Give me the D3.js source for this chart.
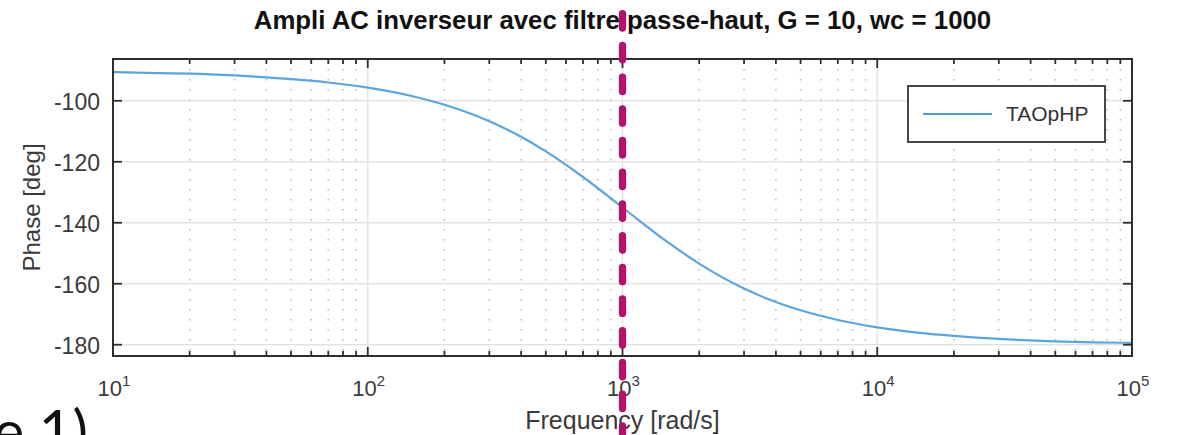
<!DOCTYPE html>
<html>
<head>
<meta charset="utf-8">
<title>Ampli AC inverseur - phase</title>
<style>
  body { margin: 0; background: #fff; }
  svg { display: block; }
  text { font-family: "Liberation Sans", Arial, sans-serif; }
</style>
</head>
<body>
<div id="plot"></div>
<script src="https://cdn.jsdelivr.net/npm/d3@7"></script>
<script>
// values
let freq  = [10, 15, 20, 30, 40, 50, 70, 100, 150, 200, 300, 400, 500, 700,
             1000, 1500, 2000, 3000, 4000, 5000, 7000, 10000, 15000, 20000,
             30000, 50000, 70000, 100000];
let phase = [-90.6, -90.9, -91.1, -91.7, -92.3, -92.9, -94.0, -95.7, -98.5,
             -101.3, -106.7, -111.8, -116.6, -125.0, -135.0, -146.3, -153.4,
             -161.6, -166.0, -168.7, -171.9, -174.3, -176.2, -177.1, -178.1,
             -178.9, -179.2, -179.4];
let yTicks = [-100, -120, -140, -160, -180];
let xDecades = [1, 2, 3, 4, 5];
let cutoff = 1000;
let seriesName = 'TAOpHP';
let title = 'Ampli AC inverseur avec filtre passe-haut, G = 10, wc = 1000';

let W = 1177, H = 435;
let margin = {top: 59, right: 45, bottom: 79, left: 113};
let x0 = margin.left, x1 = W - margin.right;
let y0 = margin.top, y1 = H - margin.bottom;

let svg = d3.select('#plot').append('svg')
  .attr('width', W).attr('height', H);

let x = d3.scaleLog().domain([10, 1e5]).range([x0, x1]);
let y = d3.scaleLinear().domain([-183.7, -86.3]).range([y1, y0]);

let minors = [];
xDecades.slice(0, -1).forEach(function(e) {
  for (let k = 2; k <= 9; k++) minors.push(k * Math.pow(10, e));
});
let majors = xDecades.map(e => Math.pow(10, e));

// grid
svg.append('g').selectAll('line').data(minors).enter().append('line')
  .attr('x1', d => x(d)).attr('x2', d => x(d))
  .attr('y1', y0).attr('y2', y1)
  .style('stroke', '#b8b8b8').style('stroke-width', 1.5)
  .style('stroke-dasharray', '1.5,8.5');

svg.append('g').selectAll('line').data(majors.slice(1, -1)).enter().append('line')
  .attr('x1', d => x(d)).attr('x2', d => x(d))
  .attr('y1', y0).attr('y2', y1)
  .style('stroke', '#e4e4e4').style('stroke-width', 1.5);

svg.append('g').selectAll('line').data(yTicks).enter().append('line')
  .attr('x1', x0).attr('x2', x1)
  .attr('y1', d => y(d)).attr('y2', d => y(d))
  .style('stroke', '#e4e4e4').style('stroke-width', 1.5);

// curve
let line = d3.line()
  .x((d, i) => x(freq[i]))
  .y(d => y(d))
  .curve(d3.curveMonotoneX);

svg.append('path').datum(phase)
  .attr('d', line)
  .style('fill', 'none')
  .style('stroke', '#5aa5dc')
  .style('stroke-width', 2.2);

// box + ticks
svg.append('rect')
  .attr('x', x0).attr('y', y0)
  .attr('width', x1 - x0).attr('height', y1 - y0)
  .style('fill', 'none').style('stroke', '#2e2e2e').style('stroke-width', 2);

let tickStyle = g => g.style('stroke', '#2e2e2e').style('stroke-width', 1.8);

[[y1, -1], [y0, 1]].forEach(function(p) {
  svg.append('g').selectAll('line').data(majors).enter().append('line')
    .attr('x1', d => x(d)).attr('x2', d => x(d))
    .attr('y1', p[0]).attr('y2', p[0] + p[1] * 9)
    .call(tickStyle);
  svg.append('g').selectAll('line').data(minors).enter().append('line')
    .attr('x1', d => x(d)).attr('x2', d => x(d))
    .attr('y1', p[0]).attr('y2', p[0] + p[1] * 5)
    .call(tickStyle);
});

[[x0, 1], [x1, -1]].forEach(function(p) {
  svg.append('g').selectAll('line').data(yTicks).enter().append('line')
    .attr('x1', p[0]).attr('x2', p[0] + p[1] * 9)
    .attr('y1', d => y(d)).attr('y2', d => y(d))
    .call(tickStyle);
});

// tick labels
svg.append('g').selectAll('text').data(yTicks).enter().append('text')
  .attr('x', x0 - 13).attr('y', d => y(d) + 9)
  .style('text-anchor', 'end')
  .style('font-size', '23px').style('fill', '#3a3a3a')
  .text(d => d);

let xl = svg.append('g').selectAll('text').data(xDecades).enter().append('text')
  .attr('x', d => x(Math.pow(10, d)) + 1).attr('y', 396)
  .style('text-anchor', 'middle')
  .style('font-size', '22px').style('fill', '#3a3a3a');
xl.append('tspan').text('10');
xl.append('tspan').attr('dy', -10).style('font-size', '15px').text(d => d);

// axis labels
svg.append('text')
  .attr('x', (x0 + x1) / 2).attr('y', 429)
  .style('text-anchor', 'middle')
  .style('font-size', '25px').style('fill', '#3a3a3a')
  .text('Frequency [rad/s]');

svg.append('text')
  .attr('transform', 'translate(40,' + (y0 + y1) / 2 + ') rotate(-90)')
  .style('text-anchor', 'middle')
  .style('font-size', '24px').style('fill', '#3a3a3a')
  .text('Phase [deg]');

// title
svg.append('text')
  .attr('x', (x0 + x1) / 2).attr('y', 29)
  .style('text-anchor', 'middle')
  .style('font-size', '25.8px').style('font-weight', 'bold').style('fill', '#111')
  .text(title);

// legend
let legend = svg.append('g');
legend.append('rect')
  .attr('x', 908).attr('y', 86).attr('width', 197).attr('height', 56)
  .style('fill', '#fff').style('stroke', '#333').style('stroke-width', 1.8);
legend.append('line')
  .attr('x1', 923).attr('x2', 992).attr('y1', 114).attr('y2', 114)
  .style('stroke', '#4c9dd8').style('stroke-width', 2.2);
legend.append('text')
  .attr('x', 1006).attr('y', 121)
  .style('font-size', '21px').style('fill', '#333')
  .text(seriesName);

// cutoff marker
svg.append('line')
  .attr('x1', x(cutoff)).attr('x2', x(cutoff))
  .attr('y1', -18).attr('y2', H + 20)
  .style('stroke', '#b4116a').style('stroke-width', 7.3)
  .style('stroke-linecap', 'round')
  .style('stroke-dasharray', '14.4,17.3');

// leftover text from the page below, cut by the bottom edge as in the reference
svg.append('text')
  .attr('x', 88).attr('y', 452)
  .style('text-anchor', 'end')
  .style('font-family', 'Lato, "Noto Sans", sans-serif')
  .style('font-size', '58px').style('fill', '#111')
  .text('re 1)');
</script>
</body>
</html>
